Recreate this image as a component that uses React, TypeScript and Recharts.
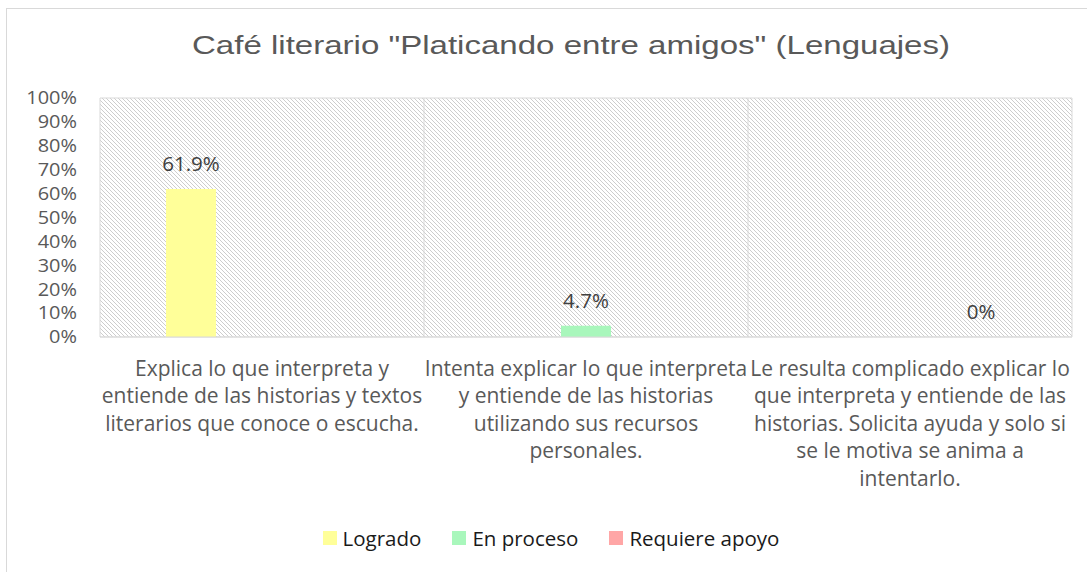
import React from "react";
import { BarChart, Bar, XAxis, YAxis, CartesianGrid, Legend, LabelList } from "recharts";

const title = 'Café literario "Platicando entre amigos" (Lenguajes)';

const categories = [
  "Explica lo que interpreta y\nentiende de las historias y textos\nliterarios que conoce o escucha.",
  "Intenta explicar lo que interpreta\ny entiende de las historias\nutilizando sus recursos\npersonales.",
  "Le resulta complicado explicar lo\nque interpreta y entiende de las\nhistorias. Solicita ayuda y solo si\nse le motiva se anima a\nintentarlo.",
];

const seriesNames = ["Logrado", "En proceso", "Requiere apoyo"];
const seriesColors = ["#FFFF99", "#A9F7BC", "#FFA6A6"];

const logrado: (number | null)[] = [61.9, null, null];
const enProceso: (number | null)[] = [null, 4.7, null];
const requiereApoyo: (number | null)[] = [null, null, 0];

const yTicks = [0, 10, 20, 30, 40, 50, 60, 70, 80, 90, 100];

const data = categories.map((c, i) => ({
  category: c,
  logrado: logrado[i],
  enProceso: enProceso[i],
  requiereApoyo: requiereApoyo[i],
}));

const FONT = "'Open Sans', 'Noto Sans', sans-serif";

const CategoryTick = (props: any) => {
  const { x, y, payload } = props;
  const lines = String(payload.value).split("\n");
  return (
    <text x={x} y={y} textAnchor="middle" fill="#595959" fontSize={21} fontFamily={FONT}>
      {lines.map((l, i) => (
        <tspan key={i} x={x} dy={i === 0 ? 39 : 27.4}>
          {l}
        </tspan>
      ))}
    </text>
  );
};

const PercentTick = (props: any) => {
  const { x, y, payload } = props;
  return (
    <text
      transform={`translate(${x},${y}) scale(1.14,1)`}
      textAnchor="end"
      dy="0.36em"
      fill="#595959"
      fontSize={17.5}
      fontFamily={FONT}
    >
      {`${payload.value}%`}
    </text>
  );
};

const renderLabel = (props: any) => {
  const { x, y, width, value } = props;
  if (value === null || value === undefined) return null;
  return (
    <text
      x={Number(x) + Number(width) / 2}
      y={Number(y) - 18}
      textAnchor="middle"
      fill="#404040"
      fontSize={20.5}
      fontFamily={FONT}
    >
      {`${value}%`}
    </text>
  );
};

const zeroVisible = (value: any) => (value === 0 ? 0.01 : 0);

const LegendContent = () => (
  <div
    style={{
      height: 30,
      display: "flex",
      justifyContent: "center",
      alignItems: "center",
      fontFamily: FONT,
      fontSize: 20.5,
      color: "#1a1a1a",
      paddingLeft: 24,
    }}
  >
    {seriesNames.map((n, i) => (
      <div key={n} style={{ display: "flex", alignItems: "center", marginRight: i < 2 ? 31 : 0 }}>
        <span style={{ display: "inline-block", width: 14, height: 14, background: seriesColors[i], marginRight: 6 }} />
        <span>{n}</span>
      </div>
    ))}
  </div>
);

export default function App() {
  return (
    <div
      style={{
        position: "absolute",
        left: 0,
        top: 0,
        width: 1087,
        height: 572,
        overflow: "hidden",
        background: "#fff",
      }}
    >
      <div
        style={{
          position: "absolute",
          left: 6,
          top: 8,
          width: 1200,
          height: 700,
          border: "1px solid #d9d9d9",
        }}
      />
      <svg style={{ position: "absolute", left: 0, top: 0 }} width={1087} height={80}>
        <text
          x={571}
          y={54}
          textAnchor="middle"
          fontFamily="'Liberation Sans', Arial, sans-serif"
          fontSize={25}
          fill="#595959"
          textLength={758}
          lengthAdjust="spacingAndGlyphs"
        >
          {title}
        </text>
      </svg>
      <div style={{ position: "absolute", left: 0, top: 0 }}>
        <BarChart
          width={1087}
          height={572}
          data={data}
          margin={{ top: 98, right: 15, left: 6, bottom: 19 }}
          barSize={50}
          barGap={21}
        >
          <defs>
            <pattern id="hatch" patternUnits="userSpaceOnUse" width="4" height="4">
              <rect width="4" height="4" fill="#ffffff" />
              <rect x="0" y="0" width="1" height="1" fill="#cdcdcd" shapeRendering="crispEdges" />
              <rect x="1" y="1" width="1" height="1" fill="#cdcdcd" shapeRendering="crispEdges" />
              <rect x="2" y="2" width="1" height="1" fill="#cdcdcd" shapeRendering="crispEdges" />
              <rect x="3" y="3" width="1" height="1" fill="#cdcdcd" shapeRendering="crispEdges" />
            </pattern>
          </defs>
          <CartesianGrid
            fill="url(#hatch)"
            fillOpacity={1}
            stroke="#d9d9d9"
            horizontalCoordinatesGenerator={({ offset }: any) => [offset.top, offset.top + offset.height]}
            verticalCoordinatesGenerator={({ offset }: any) => [
              offset.left,
              offset.left + offset.width / 3,
              offset.left + (2 * offset.width) / 3,
              offset.left + offset.width,
            ]}
          />
          <XAxis
            dataKey="category"
            height={186}
            interval={0}
            tickLine={false}
            axisLine={{ stroke: "#d9d9d9" }}
            tick={<CategoryTick />}
            tickSize={0}
            tickMargin={0}
          />
          <YAxis
            width={94}
            domain={[0, 100]}
            ticks={yTicks}
            interval={0}
            axisLine={false}
            tickLine={false}
            tickSize={0}
            tickMargin={23}
            tick={<PercentTick />}
          />
          <Legend verticalAlign="bottom" content={<LegendContent />} />
          <Bar dataKey="logrado" name={seriesNames[0]} fill={seriesColors[0]} isAnimationActive={false}>
            <LabelList dataKey="logrado" content={renderLabel} />
          </Bar>
          <Bar dataKey="enProceso" name={seriesNames[1]} fill={seriesColors[1]} isAnimationActive={false}>
            <LabelList dataKey="enProceso" content={renderLabel} />
          </Bar>
          <Bar
            dataKey="requiereApoyo"
            name={seriesNames[2]}
            fill={seriesColors[2]}
            minPointSize={zeroVisible}
            isAnimationActive={false}
          >
            <LabelList dataKey="requiereApoyo" content={renderLabel} />
          </Bar>
        </BarChart>
      </div>
    </div>
  );
}
